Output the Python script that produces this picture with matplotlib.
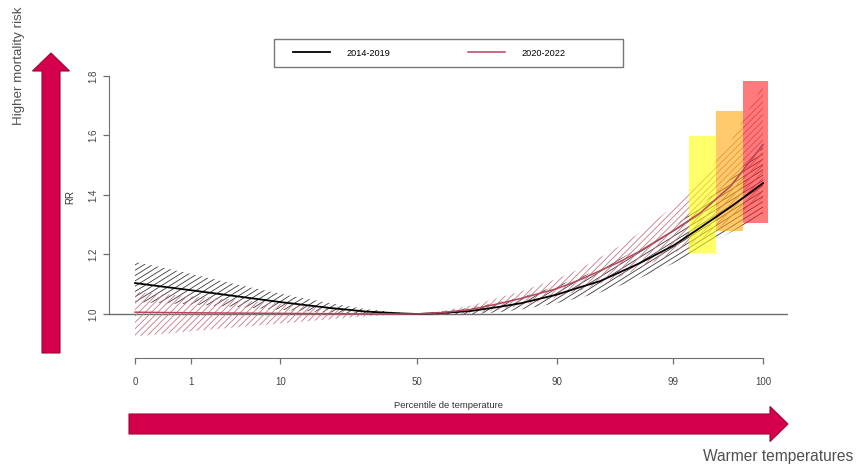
import matplotlib
matplotlib.use('Agg')
import matplotlib.pyplot as plt
import numpy as np
from matplotlib.collections import LineCollection
from matplotlib.patches import Rectangle, FancyArrow
from matplotlib.transforms import IdentityTransform

plt.rcParams['font.family'] = ['Liberation Sans', 'DejaVu Sans']

# percentile ticks and the temperature (deg C) where each one sits
pct_labels = ['0', '1', '10', '50', '90', '99', '100']
pct_temp = [-8.0, -4.9, 0.1, 7.7, 15.5, 22.0, 27.0]

temp = [-8.0, -6.6, -4.9, -2.4, 0.1, 2.9, 4.9, 6.8, 7.7, 9.0, 10.7,
        12.3, 13.5, 15.5, 16.8, 17.9, 19.0, 20.1, 22.0, 23.5, 25.2, 27.0]

# 2014-2019 relative risk and CI
rr_a = [1.104, 1.093, 1.080, 1.060, 1.040, 1.020, 1.008, 1.002, 1.000, 1.003, 1.010,
        1.024, 1.036, 1.065, 1.090, 1.110, 1.140, 1.170, 1.230, 1.290, 1.360, 1.440]
lo_a = [1.040, 1.037, 1.032, 1.024, 1.014, 1.005, 1.000, 0.999, 1.000, 0.998, 0.999,
        1.006, 1.015, 1.036, 1.055, 1.072, 1.095, 1.120, 1.170, 1.220, 1.275, 1.330]
hi_a = [1.175, 1.158, 1.135, 1.100, 1.068, 1.036, 1.016, 1.004, 1.000, 1.008, 1.021,
        1.040, 1.056, 1.094, 1.124, 1.150, 1.185, 1.220, 1.292, 1.365, 1.455, 1.560]

# 2020-2022 relative risk and CI
rr_b = [1.006, 1.005, 1.004, 1.003, 1.002, 1.001, 1.000, 1.000, 1.000, 1.004, 1.015,
        1.035, 1.052, 1.085, 1.115, 1.145, 1.175, 1.210, 1.280, 1.340, 1.430, 1.570]
lo_b = [0.925, 0.932, 0.942, 0.955, 0.968, 0.982, 0.992, 0.998, 1.000, 0.999, 1.002,
        1.015, 1.028, 1.055, 1.078, 1.102, 1.125, 1.152, 1.205, 1.250, 1.315, 1.390]
hi_b = [1.075, 1.068, 1.060, 1.048, 1.035, 1.020, 1.009, 1.003, 1.000, 1.009, 1.028,
        1.055, 1.076, 1.118, 1.152, 1.190, 1.228, 1.272, 1.362, 1.445, 1.580, 1.770]

# shaded boxes near the hot end
box_left = [22.9, 24.4, 25.9]
box_right = [24.4, 25.9, 27.3]
box_low = [1.205, 1.279, 1.306]
box_high = [1.598, 1.682, 1.783]
box_colors = ['#ffff00', '#ffa500', '#ff1a1a']

W, H = 859, 475
fig = plt.figure(figsize=(W / 100, H / 100), dpi=100)
ax = fig.add_axes([109 / W, 1 - 358 / H, (788 - 109) / W, (358 - 65) / H])
ax.set_xlim(-9.45, 28.39)
ax.set_ylim(0.852, 1.837)
ax.patch.set_alpha(0)

grey = '#6e6e6e'


def hatch(x, lo, hi, color, angle, gap):
    band = ax.fill_between(x, lo, hi, facecolor='none', edgecolor='none')
    x0, y0, x1, y1 = ax.bbox.extents
    a = np.radians(angle)
    d = np.array([np.cos(a), np.sin(a)])
    n = np.array([-np.sin(a), np.cos(a)])
    c = np.array([(x0 + x1) / 2, (y0 + y1) / 2])
    big = np.hypot(x1 - x0, y1 - y0)
    segs = [[c + n * k - d * big, c + n * k + d * big] for k in np.arange(-big / 2, big / 2, gap)]
    lc = LineCollection(segs, colors=color, linewidths=0.6, transform=IdentityTransform())
    ax.add_collection(lc, autolim=False)
    lc.set_clip_path(band.get_paths()[0], ax.transData)


hatch(temp, lo_a, hi_a, '#3a3a3a', 32, 4.5)
hatch(temp, lo_b, hi_b, '#c7798a', 45, 4.5)

ax.axhline(1.0, color=grey, lw=1, zorder=1)
la, = ax.plot(temp, rr_a, color='black', lw=1.3, label='2014-2019', zorder=4)
lb, = ax.plot(temp, rr_b, color='#b8455c', lw=1.1, label='2020-2022', zorder=4)

for x0, x1, y0, y1, col in zip(box_left, box_right, box_low, box_high, box_colors):
    ax.add_patch(Rectangle((x0, y0), x1 - x0, y1 - y0, facecolor=col, edgecolor='none',
                           alpha=0.58, zorder=3))

for s in ['top', 'right']:
    ax.spines[s].set_visible(False)
ax.spines['left'].set_bounds(1.0, 1.8)
ax.spines['bottom'].set_bounds(pct_temp[0], pct_temp[-1])
for s in ['left', 'bottom']:
    ax.spines[s].set_color(grey)
ax.set_yticks([1.0, 1.2, 1.4, 1.6, 1.8])
ax.set_yticklabels(['1.0', '1.2', '1.4', '1.6', '1.8'], rotation=90, va='center')
ax.set_xticks(pct_temp)
ax.set_xticklabels(pct_labels)
ax.tick_params(axis='both', colors=grey, labelcolor='#444444', labelsize=7, length=4.5, width=0.9)
ax.tick_params(axis='x', pad=9)
ax.tick_params(axis='y', pad=3)

fig.text(70 / W, 1 - 197 / H, 'RR', rotation=90, ha='center', va='center', fontsize=7, color='#333333')
fig.text(449 / W, 1 - 405 / H, 'Percentile de temperature', ha='center', va='center', fontsize=6.8,
         color='#333333')

# legend
fig.legend(handles=[la, lb], loc='center left', bbox_to_anchor=(293 / W, 1 - 53 / H), ncol=2,
           frameon=False, fontsize=6.6, handlelength=4.0, handletextpad=1.8, columnspacing=8.5,
           borderpad=0, borderaxespad=0)

# overlay for frame, arrows and captions (pixel coordinates)
ov = fig.add_axes([0, 0, 1, 1], zorder=-1)
ov.set_xlim(0, W)
ov.set_ylim(H, 0)
ov.axis('off')
ov.add_patch(Rectangle((274, 39), 349, 28, facecolor='none', edgecolor='#777777', lw=1))
ov.add_patch(FancyArrow(51, 353, 0, -300, width=18, head_width=37, head_length=18,
                        length_includes_head=True, facecolor='#d4004c', edgecolor='#a00038', lw=0.8))
ov.add_patch(FancyArrow(129, 424, 659, 0, width=20, head_width=35, head_length=18,
                        length_includes_head=True, facecolor='#d4004c', edgecolor='#a00038', lw=0.8))
ov.text(19, 66, 'Higher mortality risk', rotation=90, ha='center', va='center', fontsize=9.6,
        color='#505050')
ov.text(853, 457, 'Warmer temperatures', ha='right', va='center', fontsize=11.2,
        color='#505050')

fig.savefig('out.png', dpi=100)
